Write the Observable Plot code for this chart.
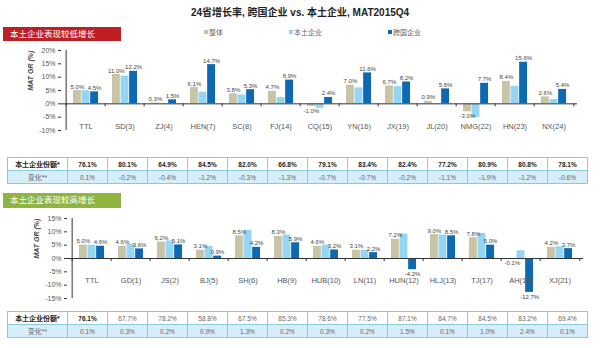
<!DOCTYPE html>
<html><head><meta charset="utf-8">
<script src="https://cdn.jsdelivr.net/npm/d3@7"></script>
<script src="https://cdn.jsdelivr.net/npm/@observablehq/plot@0.6"></script>
<style>
body{margin:0;background:#fff;font-family:"Liberation Sans","Noto Sans CJK SC",sans-serif;}
#root{position:relative;width:600px;height:348px;overflow:hidden;background:#fff;}
.abs{position:absolute;}
#title{left:0;width:600px;top:4px;text-align:center;font-weight:bold;font-size:10px;color:#222;white-space:nowrap;}
.tag{left:3px;width:118px;height:14px;color:#fff;font-size:8.5px;line-height:14px;padding-left:7px;box-sizing:border-box;white-space:nowrap;}
.leg{top:28px;font-size:7px;color:#666;white-space:nowrap;line-height:9px;}
.sw{display:inline-block;width:4px;height:4px;margin-right:1px;vertical-align:middle;position:relative;top:-1px;}
table.tb{border-collapse:collapse;table-layout:fixed;position:absolute;left:7px;width:580px;font-size:6.5px;}
table.tb td{border:1px solid #8cc9da;text-align:center;padding:0;overflow:hidden;white-space:nowrap;}
table.tb tr.r1 td{background:#fff;height:12px;}
table.tb tr.r2 td{background:#d6eefa;height:12px;color:#666;border-top:1.5px solid #3b8fc2;}
table.tb td.lab{font-size:7px;color:#222;}
.svgwrap{left:0;}
</style>
</head><body>
<div id="root">
  <div id="title" class="abs">24省增长率, 跨国企业 vs. 本土企业, MAT2015Q4</div>
  <div class="abs tag" style="top:27px;background:#bf1e24;">本土企业表现较低增长</div>
  <div id="legend"></div>
  <div id="topchart" class="abs svgwrap" style="top:40px;"></div>
  <div id="toptable"></div>
  <div class="abs tag" style="top:193px;height:15px;line-height:15px;background:#8fb43f;">本土企业表现较高增长</div>
  <div id="botchart" class="abs svgwrap" style="top:208px;"></div>
  <div id="bottable"></div>
</div>
<script>
// ---- data ----
const seriesNames = ["整体", "本土企业", "跨国企业"];
const seriesColors = ["#c8c4a6", "#93d5f2", "#0f69b2"];

const topCats = ["TTL","SD(3)","ZJ(4)","HEN(7)","SC(8)","FJ(14)","CQ(15)","YN(16)","JX(19)","JL(20)","NMG(22)","HN(23)","NX(24)"];
const topOverall = [5.0, 11.0, 0.3, 6.1, 3.8, 4.7, -1.0, 7.0, 6.7, 0.9, -3.0, 8.4, 2.6];
const topLocal   = [4.9, 10.4, 0.1, 4.4, 3.3, 2.4, -1.7, 6.0, 6.4, 0.1, -5.2, 6.6, 1.6];
const topMNC     = [4.5, 12.2, 1.5, 14.7, 5.3, 8.9, 2.4, 11.6, 8.2, 5.6, 7.7, 15.6, 5.4];
const topShare   = [76.1, 80.1, 64.9, 84.5, 82.0, 66.8, 79.1, 83.4, 82.4, 77.2, 80.9, 80.8, 78.1];
const topChange  = [0.1, -0.2, -0.4, -1.2, -0.3, -1.3, -0.7, -0.7, -0.2, -1.1, -1.9, -1.2, -0.6];
const topTicks   = [-10, -5, 0, 5, 10, 15, 20];

const botCats = ["TTL","GD(1)","JS(2)","BJ(5)","SH(6)","HB(9)","HUB(10)","LN(11)","HUN(12)","HLJ(13)","TJ(17)","AH(18)","XJ(21)"];
const botOverall = [5.0, 4.6, 6.2, 3.1, 8.5, 8.3, 4.6, 3.1, 7.2, 9.0, 7.8, -0.1, 4.2];
const botLocal   = [5.0, 5.4, 6.6, 4.5, 10.6, 8.8, 5.0, 3.1, 9.2, 8.8, 9.4, 2.9, 4.4];
const botMNC     = [4.6, 3.6, 5.1, 0.9, 4.2, 5.9, 3.2, 2.2, -4.2, 8.5, 5.0, -12.7, 3.7];
const botShare   = [76.1, 67.7, 78.2, 58.8, 67.5, 85.3, 78.6, 77.5, 87.1, 84.7, 84.5, 83.2, 69.4];
const botChange  = [0.1, 0.3, 0.2, 0.9, 1.3, 0.2, 0.3, 0.2, 1.5, 0.1, 1.0, 2.4, 0.1];
const botTicks   = [-15, -10, -5, 0, 5, 10, 15];

const tableLabels = ["本土企业份额*", "变化**"];
const yLabel = "MAT GR (%)";

// ---- legend ----
const legX = [204, 289, 388];
document.getElementById("legend").innerHTML = seriesNames.map((n, i) =>
  `<div class="abs leg" style="left:${legX[i]}px"><span class="sw" style="background:${seriesColors[i]}"></span>${n}</div>`).join("");

const FONT = "Liberation Sans, Noto Sans CJK SC, sans-serif";
const fmt = v => v.toFixed(1) + "%";

function panel(cats, overall, local, mnc, ticks, marginLeft, marginRight, height) {
  const rows = cats.map((c, i) => ({cat: c, o: overall[i], l: local[i], m: mnc[i]}));
  const step = (600 - marginLeft - marginRight) / cats.length;
  const bw = 8.6;
  const inset = (step - bw) / 2;
  const yDom = [ticks[0], ticks[ticks.length - 1]];
  const pxPerUnit = (height - 15) / (yDom[1] - yDom[0]);
  const keys = ["o", "l", "m"];
  const bars = keys.map((k, i) => Plot.barY(rows, {x: "cat", y: k, fill: seriesColors[i], insetLeft: inset, insetRight: inset, dx: (i - 1) * bw}));
  const labels = [];
  for (const [k, i] of [["o", 0], ["m", 2]]) {
    labels.push(Plot.text(rows.filter(d => d[k] >= 0), {x: "cat", y: k, text: d => fmt(d[k]), dx: (i - 1) * bw, dy: -2, lineAnchor: "bottom", fontSize: 6, fill: "#444"}));
    labels.push(Plot.text(rows.filter(d => d[k] < 0), {x: "cat", y: k, text: d => fmt(d[k]), dx: (i - 1) * bw, dy: 2, lineAnchor: "top", fontSize: 6, fill: "#444"}));
  }
  return Plot.plot({
    width: 600, height, marginLeft, marginRight, marginTop: 10, marginBottom: 5,
    x: {domain: cats, padding: 0, axis: null},
    y: {domain: yDom, axis: null},
    style: {fontFamily: FONT, background: "transparent", overflow: "visible"},
    marks: [
      ...bars,
      Plot.ruleY([0], {stroke: "#333", strokeWidth: 1}),
      Plot.ruleX(cats, {x: d => d, dx: -step / 2, y1: () => 0, y2: () => -3 / pxPerUnit, stroke: "#333"}),
      Plot.ruleX([cats[cats.length - 1]], {x: d => d, dx: step / 2, y1: () => 0, y2: () => -3 / pxPerUnit, stroke: "#333"}),
      Plot.ruleX([cats[0]], {x: d => d, dx: -step / 2, y1: () => yDom[0], y2: () => yDom[1], stroke: "#333"}),
      Plot.axisY(ticks, {tickFormat: d => d + "%", tickSize: 3, tickPadding: 3, fontSize: 7, fill: "#555", stroke: "#333", label: null}),
      ...labels,
      Plot.text(cats, {x: d => d, y: () => -8.4, text: d => d, fontSize: 7.5, fill: "#555"}),
      Plot.text([yLabel], {frameAnchor: "left", rotate: -90, dx: -31, text: d => d, fontSize: 7, fontWeight: "bold", fontStyle: "italic", fill: "#444"})
    ]
  });
}

document.getElementById("topchart").appendChild(panel(topCats, topOverall, topLocal, topMNC, topTicks, 61, 23, 95));
document.getElementById("botchart").appendChild(panel(botCats, botOverall, botLocal, botMNC, botTicks, 67, 17, 95));

function table(share, change, top, boldAll, rowH) {
  const colg = `<colgroup><col style="width:60px">${share.map(() => '<col style="width:40px">').join("")}</colgroup>`;
  const r1 = `<tr class="r1"><td class="lab" style="font-weight:bold;height:${rowH}px">${tableLabels[0]}</td>${share.map((v, i) =>
    `<td style="font-weight:${boldAll || i === 0 ? "bold" : "normal"};color:${boldAll || i === 0 ? "#222" : "#666"}">${v.toFixed(1)}%</td>`).join("")}</tr>`;
  const r2 = `<tr class="r2"><td class="lab" style="height:${rowH}px">${tableLabels[1]}</td>${change.map(v => `<td>${v.toFixed(1)}%</td>`).join("")}</tr>`;
  return `<table class="tb" style="top:${top}px">${colg}${r1}${r2}</table>`;
}
document.getElementById("toptable").innerHTML = table(topShare, topChange, 157, true, 12);
document.getElementById("bottable").innerHTML = table(botShare, botChange, 311, false, 12);
</script>
</body></html>
